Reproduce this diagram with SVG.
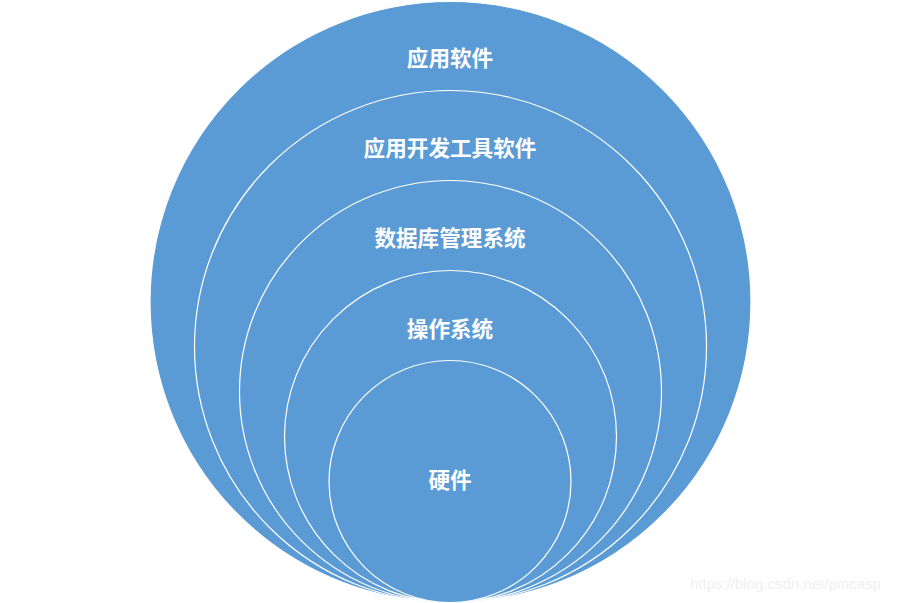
<svg xmlns="http://www.w3.org/2000/svg" width="899" height="603" viewBox="0 0 899 603">
<style>
.c{fill:#5B9BD5;stroke:#FFFFFF;stroke-width:1.2}
.t{font-family:"Noto Sans CJK SC","Noto Sans",sans-serif;font-size:21.6px;font-weight:bold;fill:#FFFFFF;text-anchor:middle}
.w{font-family:"Liberation Sans",Arial,sans-serif;font-size:15px;fill:#F0F0F0}
</style>
<rect width="899" height="603" fill="#FFFFFF"/>
<g id="app"><circle class="c" cx="450.5" cy="302" r="300.5"/><text class="t" x="450" y="66">应用软件</text></g>
<g id="devtools"><circle class="c" cx="450.5" cy="346.5" r="256"/><text class="t" x="450" y="156">应用开发工具软件</text></g>
<g id="dbms"><circle class="c" cx="450.5" cy="391.5" r="211"/><text class="t" x="450" y="246">数据库管理系统</text></g>
<g id="os"><circle class="c" cx="450.5" cy="436.5" r="166"/><text class="t" x="450" y="337">操作系统</text></g>
<g id="hw"><circle class="c" cx="450" cy="481.5" r="121"/><text class="t" x="450" y="488">硬件</text></g>
<g id="connectors"></g>
<text class="w" x="690" y="589">https://blog.csdn.net/pmcasp</text>
</svg>
